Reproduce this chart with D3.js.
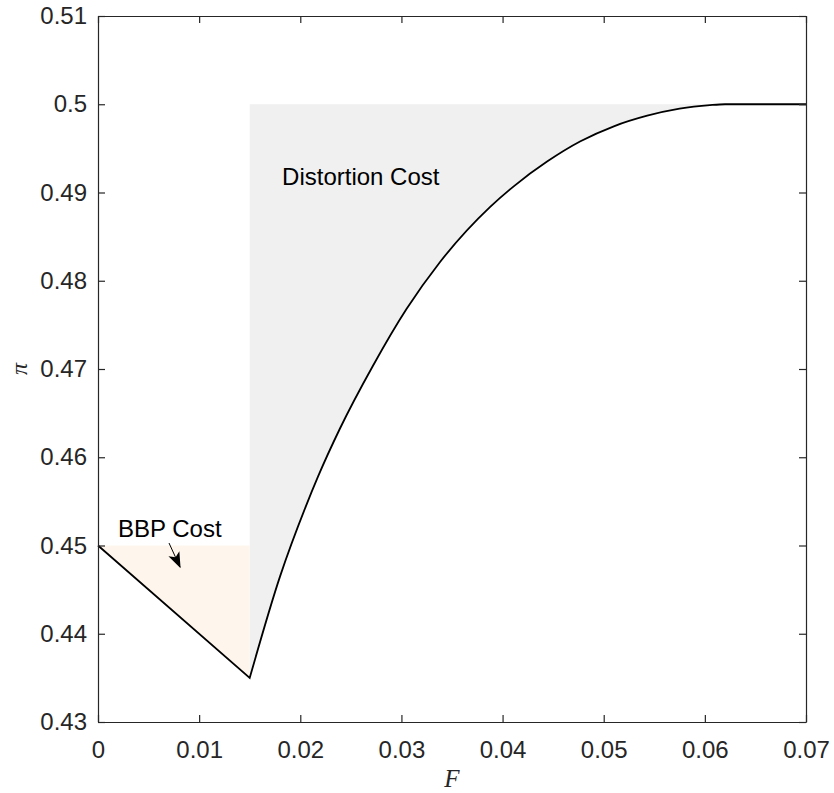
<!DOCTYPE html>
<meta charset="utf-8">
<style>
body { margin: 0; background: #fff; }
text { font-family: "Liberation Sans", Arial, sans-serif; fill: #262626; }
.axis path, .axis line { stroke: #262626; stroke-width: 1.2; }
</style>
<svg id="svg" width="834" height="793"></svg>
<script src="https://d3js.org/d3.v7.min.js"></script>
<script>

// tick values
var xTicks = [0, 0.01, 0.02, 0.03, 0.04, 0.05, 0.06, 0.07];
var yTicks = [0.43, 0.44, 0.45, 0.46, 0.47, 0.48, 0.49, 0.5, 0.51];

// straight BBP part of the frontier
var bbpF  = [0, 0.015];
var bbpPi = [0.45, 0.435];

// curved part
var curveF  = [0.015, 0.018, 0.0205, 0.02175, 0.0239, 0.0272, 0.0305, 0.0338, 0.0388, 0.0411, 0.0444, 0.0477, 0.0510, 0.0543, 0.0575, 0.0605, 0.062, 0.07];
var curvePi = [0.435, 0.4465, 0.4543, 0.4578, 0.4632, 0.4704, 0.4768, 0.4821, 0.4884, 0.4907, 0.4935, 0.4958, 0.4975, 0.4987, 0.4995, 0.4999, 0.5, 0.5];

var bbpTop = 0.45, distTop = 0.5;

var svg = d3.select("svg");
var margin = {left: 98, right: 28, top: 16, bottom: 71};
var width = 834, height = 793;

var x = d3.scaleLinear().domain([0, 0.07]).range([margin.left, width - margin.right]);
var y = d3.scaleLinear().domain([0.43, 0.51]).range([height - margin.bottom, margin.top]);

var bbp = bbpF.map(function(f, i) { return [f, bbpPi[i]]; });
var curve = curveF.map(function(f, i) { return [f, curvePi[i]]; });

// shaded areas
svg.append("path")
    .datum(curve.filter(function(d) { return d[0] <= 0.062; }))
    .attr("fill", "#f0f0f0")
    .attr("d", d3.area()
      .curve(d3.curveMonotoneX)
      .x(function(d) { return x(d[0]); })
      .y0(y(distTop))
      .y1(function(d) { return y(d[1]); }));

svg.append("path")
    .datum(bbp)
    .attr("fill", "#fef5ec")
    .attr("d", d3.area()
      .x(function(d) { return x(d[0]); })
      .y0(y(bbpTop))
      .y1(function(d) { return y(d[1]); }));

// frontier line
var line = d3.line().x(function(d) { return x(d[0]); }).y(function(d) { return y(d[1]); });
var curvePath = line.curve(d3.curveMonotoneX)(curve);
svg.append("path")
    .attr("fill", "none")
    .attr("stroke", "#000")
    .attr("stroke-width", 1.8)
    .attr("stroke-linejoin", "miter")
    .attr("d", "M" + x(bbp[0][0]) + "," + y(bbp[0][1]) + "L" + curvePath.slice(1));

// axes, ticks inside, box
var tl = 7;
svg.append("g").attr("class", "axis")
    .attr("transform", "translate(0," + y.range()[0] + ")")
    .call(d3.axisBottom(x).tickValues(xTicks).tickSizeInner(-tl).tickSizeOuter(0).tickPadding(19)
      .tickFormat(function(d) { return d === 0 ? "0" : d3.format(".2f")(d); }));
svg.append("g").attr("class", "axis")
    .attr("transform", "translate(0," + y.range()[1] + ")")
    .call(d3.axisTop(x).tickValues(xTicks).tickSizeInner(-tl).tickSizeOuter(0).tickFormat(""));
svg.append("g").attr("class", "axis")
    .attr("transform", "translate(" + x.range()[0] + ",0)")
    .call(d3.axisLeft(y).tickValues(yTicks).tickSizeInner(-tl).tickSizeOuter(0).tickPadding(11)
      .tickFormat(function(d) { return d === 0.5 ? "0.5" : d3.format(".2f")(d); }));
svg.append("g").attr("class", "axis")
    .attr("transform", "translate(" + x.range()[1] + ",0)")
    .call(d3.axisRight(y).tickValues(yTicks).tickSizeInner(-tl).tickSizeOuter(0).tickFormat(""));

svg.selectAll(".axis text")
    .attr("font-family", "'Liberation Sans', Arial, sans-serif")
    .attr("font-size", 24)
    .attr("fill", "#262626");

// axis labels
svg.append("text")
    .attr("x", x(0.035))
    .attr("y", 787)
    .attr("text-anchor", "middle")
    .style("font-family", "'Liberation Serif', serif")
    .style("font-style", "italic")
    .style("font-size", "25px")
    .style("fill", "#262626")
    .text("F");

svg.append("text")
    .attr("transform", "translate(27," + y(0.47) + ") rotate(-90)")
    .attr("text-anchor", "middle")
    .style("font-family", "'Liberation Serif', serif")
    .style("font-style", "italic")
    .style("font-size", "24px")
    .style("fill", "#262626")
    .text("π");

// annotations
svg.append("text")
    .attr("x", x(0.00198))
    .attr("y", y(0.45096))
    .style("font-size", "24px")
    .style("fill", "#000")
    .text("BBP Cost");

svg.append("text")
    .attr("x", x(0.0182))
    .attr("y", y(0.49085))
    .style("font-size", "24px")
    .style("fill", "#000")
    .text("Distortion Cost");

svg.append("defs").append("marker")
    .attr("id", "arrow")
    .attr("markerUnits", "userSpaceOnUse")
    .attr("markerWidth", 16)
    .attr("markerHeight", 16)
    .attr("viewBox", "0 0 12 12")
    .attr("refX", 11)
    .attr("refY", 6)
    .attr("orient", "auto")
  .append("path")
    .attr("d", "M0,1.5 L12,6 L0,10.5 L3,6 Z")
    .attr("fill", "#000");

svg.append("line")
    .attr("x1", x(0.00702)).attr("y1", y(0.45028))
    .attr("x2", x(0.00811)).attr("y2", y(0.44756))
    .attr("stroke", "#000")
    .attr("stroke-width", 1)
    .attr("marker-end", "url(#arrow)");

</script>
